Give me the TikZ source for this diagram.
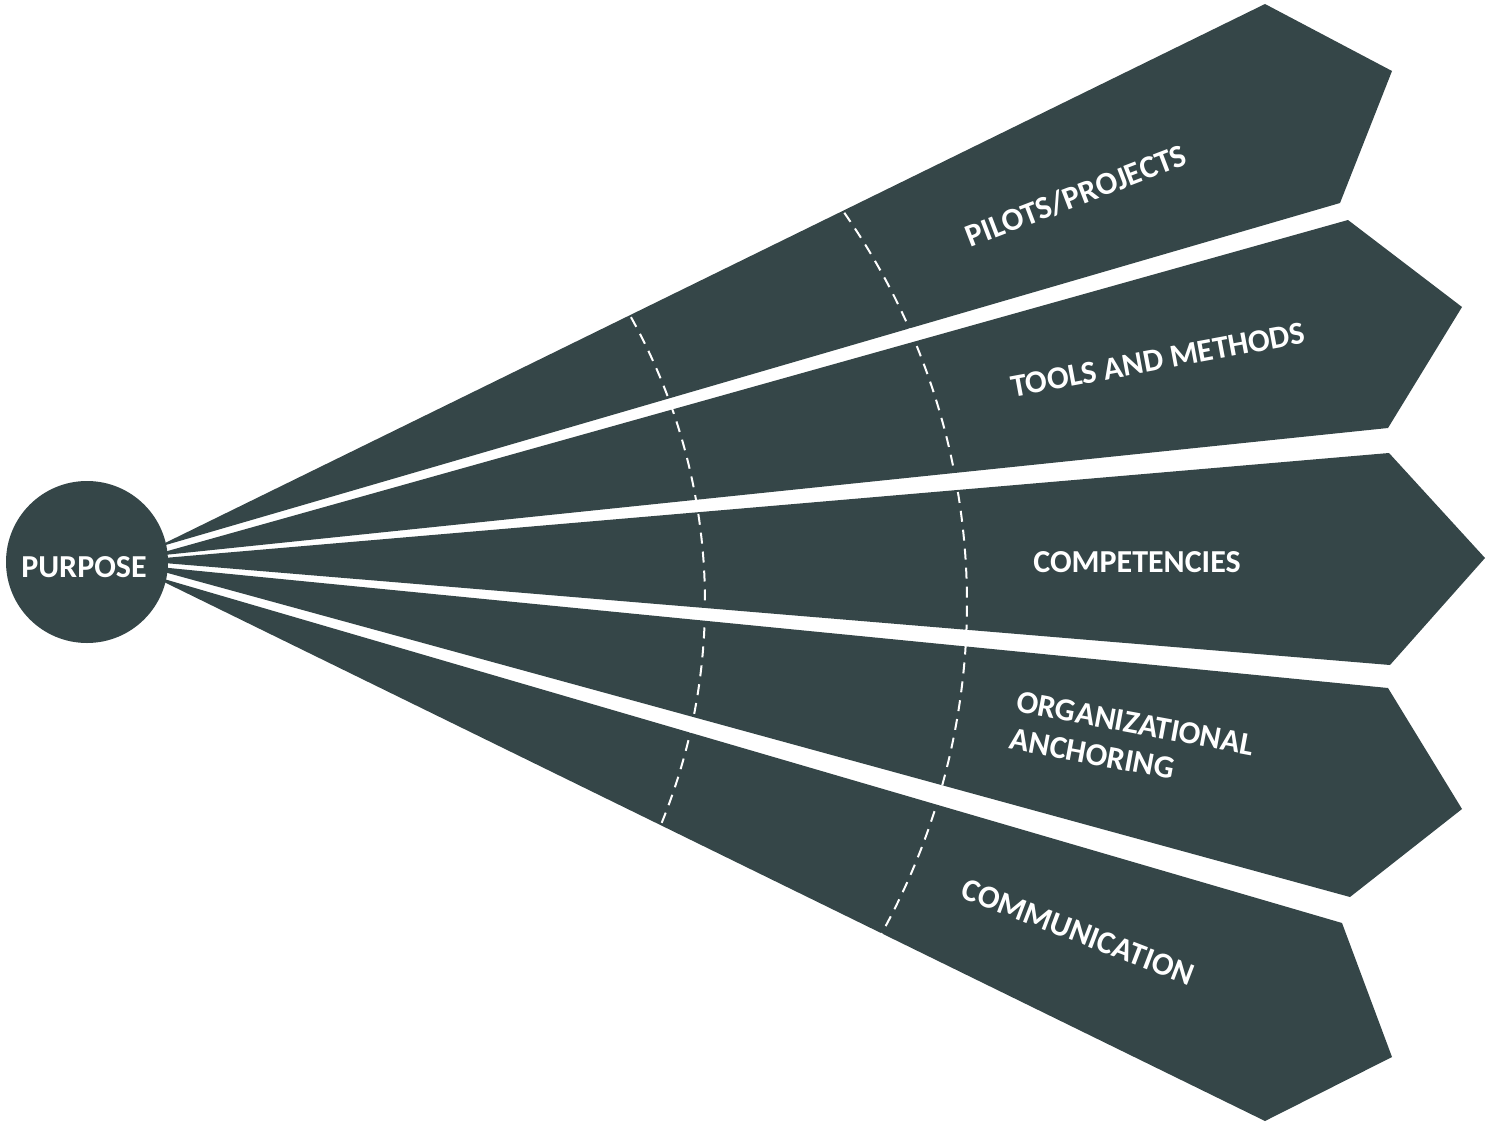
\documentclass[tikz,border=0pt]{standalone}
\usepackage{fontspec}
\setmainfont{Carlito}
\definecolor{slate}{RGB}{53,70,72}
\begin{document}
\begin{tikzpicture}[x=1pt,y=1pt,
  blade/.style={fill=slate, draw=none},
  hub/.style={circle, fill=slate, draw=none, minimum size=162pt, inner sep=0pt},
  lbl/.style={text=white, font=\fontsize{32}{38}\selectfont\bfseries, inner sep=0pt},
  caps/.style={lbl, text height=20.5pt, text depth=0pt},
  ring/.style={draw=white, line width=2pt, dash pattern=on 11pt off 8pt}]
\useasboundingbox (0,0) rectangle (1486,-1124);

% five blades fanning out from the hub
\fill[blade] (164,-543.5) -- (1265,-4)   -- (1392,-71)   -- (1340,-203)  -- (164,-545.5) -- cycle;
\fill[blade] (164,-552)   -- (1348,-220) -- (1462,-307)  -- (1388,-428)  -- (164,-555)   -- cycle;
\fill[blade] (164,-558)   -- (1389,-453) -- (1485,-558)  -- (1390,-665)  -- (164,-563)   -- cycle;
\fill[blade] (164,-567.5) -- (1388,-688) -- (1462,-809)  -- (1350,-897)  -- (164,-572)   -- cycle;
\fill[blade] (164,-579)   -- (1342,-923) -- (1392,-1057) -- (1265,-1121) -- (164,-582)   -- cycle;

% dashed rings across the fan
\coordinate (c1) at (120,-602);
\coordinate (c2) at (285,-603);
\draw[ring] (c1) ++(31:585pt) arc[start angle=31, end angle=-23.5, radius=585pt];
\draw[ring] (c2) ++(36.5:682pt) arc[start angle=36.5, end angle=-30, radius=682pt];

% hub
\node[hub] (purpose) at (87,-562) {};
\node[caps] (purposetext) at (84,-567) {PURPOSE};

% blade labels
\node[caps, rotate=21] (pilots) at (1076,-196) {PILOTS/PROJECTS};
\node[caps, rotate=10.5] (tools) at (1158,-360) {TOOLS AND METHODS};
\node[caps] (competencies) at (1137,-562) {COMPETENCIES};
\node[lbl, rotate=-10.5, align=left] (anchoring) at (1132,-742) {ORGANIZATIONAL\\ANCHORING};
\node[caps, rotate=-21] (communication) at (1078,-932) {COMMUNICATION};
\end{tikzpicture}
\end{document}
